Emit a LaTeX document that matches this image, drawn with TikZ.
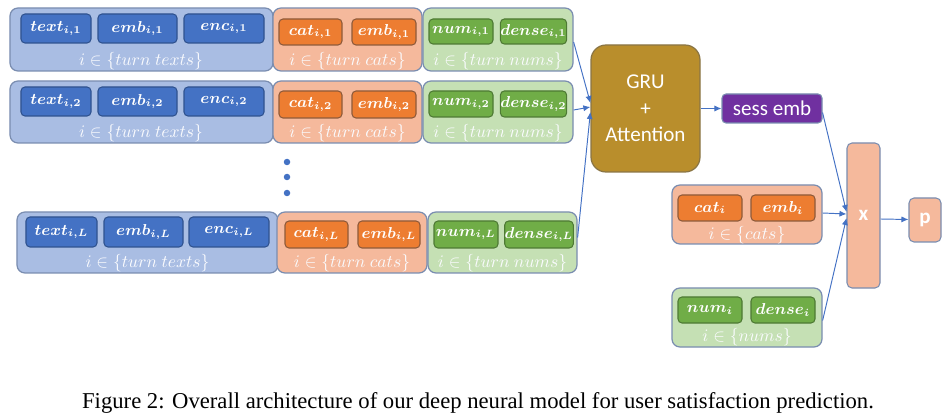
\documentclass[tikz,border=0pt]{standalone}
\usepackage{amsmath,bm}
\usepackage{fontspec}
\setmainfont{Liberation Serif}
\newfontfamily\calib{Carlito}
\usetikzlibrary{arrows.meta}
\definecolor{gborder}{HTML}{7A8DB0}
\definecolor{bluegrp}{HTML}{A9BDE3}
\definecolor{blueinn}{HTML}{4472C4}
\definecolor{blueinb}{HTML}{2F528F}
\definecolor{orgrp}{HTML}{F5B99C}
\definecolor{orinn}{HTML}{ED7D31}
\definecolor{orinb}{HTML}{8E5A3A}
\definecolor{grgrp}{HTML}{C5E0B4}
\definecolor{grinn}{HTML}{70AD47}
\definecolor{grinb}{HTML}{4E7A34}
\definecolor{grucol}{HTML}{B98E2C}
\definecolor{grub}{HTML}{8A7545}
\definecolor{purp}{HTML}{7030A0}
\definecolor{arr}{HTML}{4472C4}
\definecolor{lbl}{HTML}{FAFBFE}
\newcommand\bx[7]{%
  \pgfmathsetmacro\bw{(#4-#2)*0.02}%
  \pgfmathsetmacro\bh{(#5-#3)*0.02}%
  \node[#6, minimum width=\bw cm, minimum height=\bh cm, inner sep=0pt] (#1) at ({(#2+#4)/2},{(#3+#5)/2}) {#7};}
\tikzset{
  grp/.style={draw=gborder, line width=0.7pt, rounded corners=0.16cm},
  bgrp/.style={grp, fill=bluegrp},
  ogrp/.style={grp, fill=orgrp},
  ggrp/.style={grp, fill=grgrp},
  inn/.style={line width=0.6pt, rounded corners=0.08cm, text=white, font=\fontsize{9.2}{10}\selectfont},
  binn/.style={inn, fill=blueinn, draw=blueinb},
  oinn/.style={inn, fill=orinn, draw=orinb},
  ginn/.style={inn, fill=grinn, draw=grinb},
  glbl/.style={text=lbl, font=\fontsize{10}{11}\selectfont, inner sep=0pt},
  con/.style={draw=arr, line width=0.55pt, -{Latex[length=4pt,width=3.5pt]}},
  sans/.style={text=white, font=\calib\fontsize{12}{14}\selectfont},
}
\newcommand\lb[1]{$\bm{#1}$}
\begin{document}
\begin{tikzpicture}[x=0.02cm,y=-0.02cm]
\useasboundingbox (0,0) rectangle (949,418);
% row 1
\bx{b1}{10}{8}{273}{71}{bgrp}{}
\bx{o1}{273}{8}{422}{71}{ogrp}{}
\bx{g1}{423}{8}{573}{71}{ggrp}{}
\bx{t1}{21}{14}{91}{43}{binn}{\lb{text_{i,1}}}
\bx{e1}{98}{14}{177}{43}{binn}{\lb{emb_{i,1}}}
\bx{c1}{184}{14}{264}{43}{binn}{\lb{enc_{i,1}}}
\bx{k1}{279}{19}{342}{45}{oinn}{\lb{cat_{i,1}}}
\bx{m1}{352}{19}{416}{45}{oinn}{\lb{emb_{i,1}}}
\bx{n1}{429}{19}{493}{44}{ginn}{\lb{num_{i,1}}}
\bx{d1}{502}{19}{565}{44}{ginn}{\lb{dense_{i,1}}}
\node[glbl] (lb1) at (141,61) {$i\in\{turn\ texts\}$};
\node[glbl] (lo1) at (347.5,61) {$i\in\{turn\ cats\}$};
\node[glbl] (lg1) at (498,61) {$i\in\{turn\ nums\}$};
% row 2
\bx{b2}{10}{81}{273}{143}{bgrp}{}
\bx{o2}{273}{81}{422}{143}{ogrp}{}
\bx{g2}{423}{81}{573}{143}{ggrp}{}
\bx{t2}{21}{87}{91}{116}{binn}{\lb{text_{i,2}}}
\bx{e2}{98}{87}{177}{116}{binn}{\lb{emb_{i,2}}}
\bx{c2}{184}{87}{264}{116}{binn}{\lb{enc_{i,2}}}
\bx{k2}{279}{91}{342}{118}{oinn}{\lb{cat_{i,2}}}
\bx{m2}{352}{91}{416}{118}{oinn}{\lb{emb_{i,2}}}
\bx{n2}{429}{91}{493}{117}{ginn}{\lb{num_{i,2}}}
\bx{d2}{502}{91}{565}{117}{ginn}{\lb{dense_{i,2}}}
\node[glbl] (lb2) at (141,133) {$i\in\{turn\ texts\}$};
\node[glbl] (lo2) at (347.5,133) {$i\in\{turn\ cats\}$};
\node[glbl] (lg2) at (498,133) {$i\in\{turn\ nums\}$};
% dots
\foreach \yy/\nm in {162/da,177/db,193/dc}
  \node[circle, fill=blueinn, inner sep=0pt, minimum size=0.13cm] (\nm) at (287,\yy) {};
% row L
\bx{bL}{17}{212}{278}{273}{bgrp}{}
\bx{oL}{277}{212}{427}{273}{ogrp}{}
\bx{gL}{428}{212}{577}{273}{ggrp}{}
\bx{tL}{26}{217}{97}{247}{binn}{\lb{text_{i,L}}}
\bx{eL}{104}{217}{183}{247}{binn}{\lb{emb_{i,L}}}
\bx{cL}{189}{217}{269}{247}{binn}{\lb{enc_{i,L}}}
\bx{kL}{285}{221}{348}{248}{oinn}{\lb{cat_{i,L}}}
\bx{mL}{358}{221}{420}{248}{oinn}{\lb{emb_{i,L}}}
\bx{nL}{434}{221}{498}{248}{ginn}{\lb{num_{i,L}}}
\bx{dL}{507}{221}{571}{248}{ginn}{\lb{dense_{i,L}}}
\node[glbl] (lbL) at (147.5,263) {$i\in\{turn\ texts\}$};
\node[glbl] (loL) at (352,263) {$i\in\{turn\ cats\}$};
\node[glbl] (lgL) at (502.5,263) {$i\in\{turn\ nums\}$};
% GRU
\bx{gru}{591}{45}{700}{172}{draw=grub, line width=0.7pt, fill=grucol, rounded corners=0.3cm, sans, align=center}{GRU\\[1pt]+\\[1pt]Attention}
\bx{sess}{722}{94}{822}{123}{draw=gborder, line width=0.6pt, fill=purp, rounded corners=0.08cm, sans}{sess emb}
% cats / nums
\bx{cg}{672}{185}{822}{244}{ogrp}{}
\bx{ck}{678}{195}{742}{221}{oinn}{$\bm{cat_i}$}
\bx{cm}{751}{195}{815}{221}{oinn}{$\bm{emb_i}$}
\node[glbl] (lc) at (747,235) {$i\in\{cats\}$};
\bx{ng}{672}{288}{822}{347}{ggrp}{}
\bx{nn}{678}{297}{742}{323}{ginn}{$\bm{num_i}$}
\bx{nd}{751}{297}{815}{323}{ginn}{$\bm{dense_i}$}
\node[glbl] (ln) at (747,337) {$i\in\{nums\}$};
% x, p
\bx{xb}{847}{143}{880}{288}{draw=gborder, line width=0.6pt, fill=orgrp, rounded corners=0.1cm, sans}{\bfseries x}
\bx{pb}{909}{198}{941}{242}{draw=gborder, line width=0.6pt, fill=orgrp, rounded corners=0.1cm, sans}{\bfseries p}
% connectors
\draw[con] ([yshift=-0.05cm]g1.east) -- ([yshift=0.11cm]gru.west);
\draw[con] ([yshift=0.04cm]g2.east) -- ([yshift=0.03cm]gru.west);
\draw[con] ([yshift=0.1cm]gL.east) -- ([yshift=-0.07cm]gru.west);
\draw[con] (gru.east) -- (sess.west);
\draw[con] ([yshift=-0.08cm]sess.east) -- ([yshift=0.07cm]xb.west);
\draw[con] ([yshift=0.03cm]cg.east) -- ([yshift=0.03cm]xb.west);
\draw[con] ([yshift=-0.06cm]ng.east) -- ([yshift=-0.05cm]xb.west);
\draw[con] ([yshift=-0.07cm]xb.east) -- ([yshift=0.01cm]pb.west);
% caption
\node[font=\fontsize{12.9}{15}\selectfont, inner sep=0pt] (cap) at (478,403) {Figure 2: Overall architecture of our deep neural model for user satisfaction prediction.};
\end{tikzpicture}
\end{document}
